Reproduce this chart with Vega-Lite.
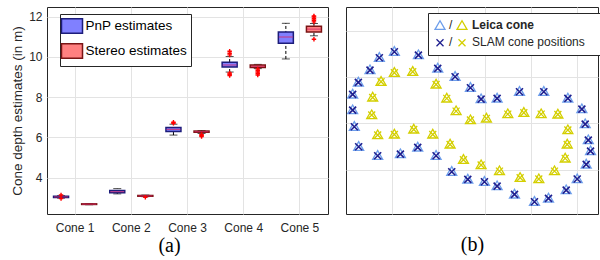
{
  "$schema": "https://vega.github.io/schema/vega-lite/v6.json",
  "padding": {"left": 10, "top": 6, "right": 0, "bottom": 0},
  "background": "white",
  "config": {
    "view": {"stroke": "#262626", "strokeWidth": 1},
    "font": "Liberation Sans",
    "axis": {"labelFont": "Liberation Sans", "labelFontSize": 12, "labelColor": "#262626", "titleColor": "#262626", "titleFont": "Liberation Sans", "titleFontWeight": "normal", "gridColor": "#e3e3e3", "gridWidth": 1, "domain": false, "ticks": false}
  },
  "datasets": {
    "box": [
      {"cone": "Cone 1", "method": "PnP estimates", "lo": 2.99, "q1": 3.02, "med": 3.05, "q3": 3.08, "hi": 3.11},
      {"cone": "Cone 1", "method": "Stereo estimates", "lo": 2.66, "q1": 2.675, "med": 2.69, "q3": 2.705, "hi": 2.72},
      {"cone": "Cone 2", "method": "PnP estimates", "lo": 3.2, "q1": 3.25, "med": 3.31, "q3": 3.37, "hi": 3.46},
      {"cone": "Cone 2", "method": "Stereo estimates", "lo": 3.06, "q1": 3.08, "med": 3.1, "q3": 3.12, "hi": 3.14},
      {"cone": "Cone 3", "method": "PnP estimates", "lo": 6.12, "q1": 6.3, "med": 6.4, "q3": 6.5, "hi": 6.66},
      {"cone": "Cone 3", "method": "Stereo estimates", "lo": 6.2, "q1": 6.26, "med": 6.29, "q3": 6.32, "hi": 6.34},
      {"cone": "Cone 4", "method": "PnP estimates", "lo": 9.25, "q1": 9.5, "med": 9.6, "q3": 9.74, "hi": 10.02},
      {"cone": "Cone 4", "method": "Stereo estimates", "lo": 9.42, "q1": 9.47, "med": 9.53, "q3": 9.6, "hi": 9.63},
      {"cone": "Cone 5", "method": "PnP estimates", "lo": 9.9, "q1": 10.68, "med": 10.99, "q3": 11.24, "hi": 11.67},
      {"cone": "Cone 5", "method": "Stereo estimates", "lo": 11.05, "q1": 11.24, "med": 11.38, "q3": 11.52, "hi": 11.66}
    ],
    "out": [
      {"cone": "Cone 1", "method": "PnP estimates", "value": 3.14},
      {"cone": "Cone 1", "method": "PnP estimates", "value": 2.97},
      {"cone": "Cone 2", "method": "Stereo estimates", "value": 3.03},
      {"cone": "Cone 3", "method": "PnP estimates", "value": 6.71},
      {"cone": "Cone 3", "method": "PnP estimates", "value": 6.76},
      {"cone": "Cone 3", "method": "Stereo estimates", "value": 6.15},
      {"cone": "Cone 3", "method": "Stereo estimates", "value": 6.1},
      {"cone": "Cone 3", "method": "Stereo estimates", "value": 6.05},
      {"cone": "Cone 4", "method": "PnP estimates", "value": 10.1},
      {"cone": "Cone 4", "method": "PnP estimates", "value": 10.18},
      {"cone": "Cone 4", "method": "PnP estimates", "value": 10.28},
      {"cone": "Cone 4", "method": "PnP estimates", "value": 9.2},
      {"cone": "Cone 4", "method": "PnP estimates", "value": 9.14},
      {"cone": "Cone 4", "method": "PnP estimates", "value": 9.08},
      {"cone": "Cone 4", "method": "Stereo estimates", "value": 9.4},
      {"cone": "Cone 4", "method": "Stereo estimates", "value": 9.32},
      {"cone": "Cone 4", "method": "Stereo estimates", "value": 9.25},
      {"cone": "Cone 4", "method": "Stereo estimates", "value": 9.18},
      {"cone": "Cone 4", "method": "Stereo estimates", "value": 9.1},
      {"cone": "Cone 5", "method": "Stereo estimates", "value": 11.74},
      {"cone": "Cone 5", "method": "Stereo estimates", "value": 11.82},
      {"cone": "Cone 5", "method": "Stereo estimates", "value": 11.9},
      {"cone": "Cone 5", "method": "Stereo estimates", "value": 11.98},
      {"cone": "Cone 5", "method": "Stereo estimates", "value": 12.03},
      {"cone": "Cone 5", "method": "Stereo estimates", "value": 10.88}
    ],
    "pts": [
      {"x": 0.144, "y": 2.642, "ring": "outer"},
      {"x": 0.267, "y": 2.901, "ring": "outer"},
      {"x": 0.519, "y": 3.168, "ring": "outer"},
      {"x": 0.721, "y": 3.434, "ring": "outer"},
      {"x": 1.046, "y": 3.564, "ring": "outer"},
      {"x": 1.566, "y": 3.492, "ring": "outer"},
      {"x": 1.984, "y": 3.204, "ring": "outer"},
      {"x": 2.359, "y": 3.024, "ring": "outer"},
      {"x": 2.691, "y": 2.786, "ring": "outer"},
      {"x": 2.922, "y": 2.541, "ring": "outer"},
      {"x": 3.268, "y": 2.556, "ring": "outer"},
      {"x": 3.752, "y": 2.7, "ring": "outer"},
      {"x": 4.278, "y": 2.7, "ring": "outer"},
      {"x": 4.798, "y": 2.556, "ring": "outer"},
      {"x": 5.101, "y": 2.325, "ring": "outer"},
      {"x": 5.173, "y": 2.001, "ring": "outer"},
      {"x": 5.24, "y": 1.656, "ring": "outer"},
      {"x": 5.289, "y": 1.418, "ring": "outer"},
      {"x": 5.195, "y": 1.13, "ring": "outer"},
      {"x": 5.0, "y": 0.814, "ring": "outer"},
      {"x": 4.762, "y": 0.576, "ring": "outer"},
      {"x": 4.379, "y": 0.396, "ring": "outer"},
      {"x": 4.076, "y": 0.324, "ring": "outer"},
      {"x": 3.644, "y": 0.482, "ring": "outer"},
      {"x": 3.268, "y": 0.662, "ring": "outer"},
      {"x": 2.994, "y": 0.756, "ring": "outer"},
      {"x": 2.634, "y": 0.806, "ring": "outer"},
      {"x": 2.287, "y": 0.972, "ring": "outer"},
      {"x": 1.948, "y": 1.318, "ring": "outer"},
      {"x": 1.551, "y": 1.497, "ring": "outer"},
      {"x": 1.176, "y": 1.353, "ring": "outer"},
      {"x": 0.685, "y": 1.318, "ring": "outer"},
      {"x": 0.274, "y": 1.512, "ring": "outer"},
      {"x": 0.18, "y": 1.944, "ring": "outer"},
      {"x": 0.144, "y": 2.304, "ring": "outer"},
      {"x": 0.577, "y": 2.577, "ring": "inner"},
      {"x": 0.758, "y": 2.916, "ring": "inner"},
      {"x": 1.046, "y": 3.11, "ring": "inner"},
      {"x": 1.443, "y": 3.132, "ring": "inner"},
      {"x": 1.948, "y": 2.858, "ring": "inner"},
      {"x": 2.179, "y": 2.556, "ring": "inner"},
      {"x": 2.381, "y": 2.282, "ring": "inner"},
      {"x": 2.691, "y": 2.088, "ring": "inner"},
      {"x": 3.037, "y": 2.124, "ring": "inner"},
      {"x": 3.499, "y": 2.217, "ring": "inner"},
      {"x": 3.846, "y": 2.246, "ring": "inner"},
      {"x": 4.221, "y": 2.217, "ring": "inner"},
      {"x": 4.582, "y": 2.21, "ring": "inner"},
      {"x": 4.798, "y": 1.872, "ring": "inner"},
      {"x": 4.784, "y": 1.562, "ring": "inner"},
      {"x": 4.74, "y": 1.26, "ring": "inner"},
      {"x": 4.509, "y": 0.986, "ring": "inner"},
      {"x": 4.17, "y": 0.814, "ring": "inner"},
      {"x": 3.766, "y": 0.842, "ring": "inner"},
      {"x": 3.319, "y": 0.986, "ring": "inner"},
      {"x": 2.922, "y": 1.116, "ring": "inner"},
      {"x": 2.54, "y": 1.231, "ring": "inner"},
      {"x": 2.251, "y": 1.562, "ring": "inner"},
      {"x": 1.876, "y": 1.778, "ring": "inner"},
      {"x": 1.465, "y": 1.886, "ring": "inner"},
      {"x": 1.046, "y": 1.778, "ring": "inner"},
      {"x": 0.685, "y": 1.764, "ring": "inner"},
      {"x": 0.556, "y": 2.196, "ring": "inner"}
    ]
  },
  "hconcat": [
    {
      "width": 281,
      "height": 207,
      "layer": [
        {
          "data": {"name": "box"},
          "mark": {"type": "rule", "strokeDash": [3, 2], "color": "#000000", "strokeWidth": 1},
          "encoding": {
            "x": {"field": "cone", "type": "nominal", "scale": {"paddingInner": 0, "paddingOuter": 0}, "axis": {"title": "(a)", "labelAngle": 0, "grid": true, "bandPosition": 0.5, "labelPadding": 8, "titleFont": "Liberation Serif", "titleFontSize": 20, "titleColor": "#000000", "titleX": 122, "titlePadding": 2}},
            "xOffset": {"field": "method", "type": "nominal", "scale": {"paddingInner": 0, "paddingOuter": 0}},
            "y": {"field": "lo", "type": "quantitative", "scale": {"domain": [2.2, 12.48], "nice": false, "zero": false}, "axis": {"values": [4, 6, 8, 10, 12], "title": "Cone depth estimates (in m)", "titleFontSize": 13.5, "grid": true, "labelPadding": 5, "titlePadding": 4}},
            "y2": {"field": "hi"}
          }
        },
        {
          "data": {"name": "box"},
          "mark": {"type": "tick", "orient": "horizontal", "size": 8, "thickness": 1, "color": "#000000"},
          "encoding": {
            "x": {"field": "cone", "type": "nominal"},
            "xOffset": {"field": "method", "type": "nominal"},
            "y": {"field": "lo", "type": "quantitative"}
          }
        },
        {
          "data": {"name": "box"},
          "mark": {"type": "tick", "orient": "horizontal", "size": 8, "thickness": 1, "color": "#000000"},
          "encoding": {
            "x": {"field": "cone", "type": "nominal"},
            "xOffset": {"field": "method", "type": "nominal"},
            "y": {"field": "hi", "type": "quantitative"}
          }
        },
        {
          "data": {"name": "box"},
          "mark": {"type": "bar", "size": 15, "strokeWidth": 1.5},
          "encoding": {
            "x": {"field": "cone", "type": "nominal"},
            "xOffset": {"field": "method", "type": "nominal"},
            "y": {"field": "q1", "type": "quantitative"},
            "y2": {"field": "q3"},
            "fill": {"field": "method", "type": "nominal", "scale": {"domain": ["PnP estimates", "Stereo estimates"], "range": ["#8080ff", "#ff8080"]}, "legend": {"orient": "none", "legendX": 13, "legendY": 7, "title": null, "symbolType": "M-1.45,-1H1.45V1H-1.45Z", "symbolSize": 210, "symbolStrokeWidth": 1.5, "labelFontSize": 13.5, "labelColor": "#000000", "padding": 4, "rowPadding": 3, "labelOffset": 5.5, "strokeColor": "#262626", "fillColor": "white", "zindex": 1}},
            "stroke": {"field": "method", "type": "nominal", "scale": {"domain": ["PnP estimates", "Stereo estimates"], "range": ["#1c1c7a", "#7a1414"]}, "legend": {"orient": "none", "legendX": 13, "legendY": 7, "title": null, "symbolType": "M-1.45,-1H1.45V1H-1.45Z", "symbolSize": 210, "symbolStrokeWidth": 1.5, "labelFontSize": 13.5, "labelColor": "#000000", "padding": 4, "rowPadding": 3, "labelOffset": 5.5, "strokeColor": "#262626", "fillColor": "white", "zindex": 1}}
          }
        },
        {
          "data": {"name": "box"},
          "mark": {"type": "tick", "orient": "horizontal", "size": 14, "thickness": 1.2, "color": "#d42a6a"},
          "encoding": {
            "x": {"field": "cone", "type": "nominal"},
            "xOffset": {"field": "method", "type": "nominal"},
            "y": {"field": "med", "type": "quantitative"}
          }
        },
        {
          "data": {"name": "out"},
          "mark": {"type": "point", "shape": "M-1,0H1M0,-1V1", "size": 20, "strokeWidth": 1.4, "color": "#ff0000", "filled": false, "opacity": 1},
          "encoding": {
            "x": {"field": "cone", "type": "nominal"},
            "xOffset": {"field": "method", "type": "nominal"},
            "y": {"field": "value", "type": "quantitative"}
          }
        }
      ]
    },
    {
      "width": 252,
      "height": 207,
      "data": {"name": "pts"},
      "encoding": {
        "x": {"field": "x", "type": "quantitative", "scale": {"domain": [0, 5.45], "nice": false, "zero": false}, "axis": {"values": [1, 2, 3, 4, 5], "labels": false, "grid": true, "title": "(b)", "titleFont": "Liberation Serif", "titleFontSize": 20, "titleColor": "#000000", "titlePadding": 20}},
        "y": {"field": "y", "type": "quantitative", "scale": {"domain": [0.043, 4.514], "nice": false, "zero": false}, "axis": {"values": [1, 2, 3, 4], "labels": false, "grid": true, "title": null}}
      },
      "layer": [
        {
          "transform": [{"filter": "datum.ring === 'outer'"}],
          "layer": [
            {
              "mark": {"type": "point", "filled": false, "size": 100, "strokeWidth": 1.3, "opacity": 1},
              "encoding": {
                "shape": {"datum": "Leica cone", "scale": {"domain": ["Leica cone", "SLAM cone positions", "D1", "D2"], "range": ["triangle-up", "M-0.7,-0.55L0.7,0.85M-0.7,0.85L0.7,-0.55", "M0,0", "M0,0"]}, "legend": {"orient": "none", "direction": "vertical", "columns": 2, "columnPadding": 128, "legendX": 82, "legendY": 6, "title": null, "labelExpr": "datum.value === 'D1' || datum.value === 'D2' ? '' : '/'", "labelLimit": 400, "labelFontSize": 12, "labelColor": "#262626", "symbolSize": 100, "symbolStrokeWidth": 1.3, "symbolFillColor": "transparent", "padding": 6, "rowPadding": 4, "labelOffset": 3, "strokeColor": "#262626", "fillColor": "white", "zindex": 1}},
                "stroke": {"datum": "Leica cone", "scale": {"domain": ["Leica cone", "SLAM cone positions", "D1", "D2"], "range": ["#6d9eeb", "#1f1f8f", "transparent", "transparent"]}, "legend": {"orient": "none", "direction": "vertical", "columns": 2, "columnPadding": 128, "legendX": 82, "legendY": 6, "title": null, "labelExpr": "datum.value === 'D1' || datum.value === 'D2' ? '' : '/'", "labelLimit": 400, "labelFontSize": 12, "labelColor": "#262626", "symbolSize": 100, "symbolStrokeWidth": 1.3, "symbolFillColor": "transparent", "padding": 6, "rowPadding": 4, "labelOffset": 3, "strokeColor": "#262626", "fillColor": "white", "zindex": 1}}
              }
            },
            {
              "mark": {"type": "point", "filled": false, "size": 100, "strokeWidth": 1.6, "opacity": 1},
              "encoding": {
                "shape": {"datum": "SLAM cone positions"},
                "stroke": {"datum": "SLAM cone positions"}
              }
            }
          ]
        },
        {
          "transform": [{"filter": "datum.ring === 'inner'"}],
          "layer": [
            {
              "mark": {"type": "point", "filled": false, "size": 100, "strokeWidth": 1.3, "stroke": "#d4cf00", "opacity": 1},
              "encoding": {
                "shape": {"datum": "L", "scale": {"domain": ["D1", "D2", "L", "S"], "range": ["M0,0", "M0,0", "triangle-up", "M-0.7,-0.55L0.7,0.85M-0.7,0.85L0.7,-0.55"]}, "legend": {"orient": "none", "direction": "vertical", "legendX": 82, "legendY": 6, "title": null, "columns": 2, "columnPadding": 4, "labelExpr": "datum.value === 'L' ? 'Leica cone' : datum.value === 'S' ? 'SLAM cone positions' : ''", "labelLimit": 400, "labelFontSize": 12, "labelFontWeight": {"expr": "datum.value === 'L' ? 'bold' : 'normal'"}, "labelColor": "#262626", "symbolSize": 100, "symbolStrokeWidth": 1.3, "symbolStrokeColor": "#d4cf00", "symbolFillColor": "transparent", "padding": 6, "rowPadding": 4, "labelOffset": 4, "zindex": 2}}
              }
            },
            {
              "mark": {"type": "point", "filled": false, "size": 100, "strokeWidth": 1.3, "stroke": "#d4cf00", "opacity": 1},
              "encoding": {
                "shape": {"datum": "S"}
              }
            }
          ]
        }
      ],
      "resolve": {"scale": {"shape": "independent", "stroke": "independent"}, "legend": {"shape": "independent", "stroke": "independent"}}
    }
  ],
  "spacing": 15,
  "resolve": {"scale": {"fill": "independent", "stroke": "independent", "shape": "independent"}, "legend": {"fill": "independent", "stroke": "independent", "shape": "independent"}}
}
